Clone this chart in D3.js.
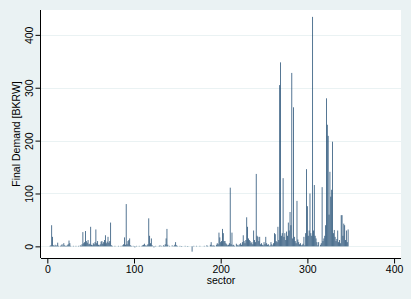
<!DOCTYPE html>
<html lang="en">
    <script src="https://d3js.org/d3.v7.min.js"></script>
    <head>
        <title>Final Demand by sector</title>
    </head>
    <style>
        *{
            margin: 0px;
            padding: 0px;
        }
        body{
            background-color: #EAF2F3;
        }
        text{
            font-family: 'Liberation Sans', Arial, sans-serif;
        }
    </style>
    <body>
        <div class="chart"></div>
        <script>
            // sector numbers 1..350 and final demand [BKRW]
            var sectors = d3.range(1, 351);
            var demand = [
                0, 0, 1, 2, 40, 18, 2, 1, 3, 1,
                2, 7, 1, 0, 1, 2, 4, 1, 6, 2,
                1, 1, 2, 4, 11, 6, 1, 0, 0, 1,
                0, 0, 1, 0, 0, 1, 0, 2, 1, 4,
                27, 6, 8, 29, 10, 7, 12, 4, 5, 37,
                3, 2, 6, 4, 8, 32, 6, 10, 3, 2,
                4, 9, 10, 5, 8, 12, 21, 6, 9, 18,
                7, 10, 45, 2, 1, 0, 0, 1, 0, 0,
                0, 1, 0, 0, 1, 0, 2, 4, 17, 3,
                80, 4, 10, 12, 15, 2, 1, 0, 1, 0,
                -2, 0, 1, 0, 0, 1, 0, 0, 1, 2,
                3, 5, 2, 1, 2, 4, 53, 20, 6, 15,
                2, 0, -2, 0, 1, 0, 0, 0, 1, 2,
                0, 1, 0, 2, 1, 4, 15, 33, 3, 0,
                1, 0, 0, 2, 0, 1, 3, 8, 2, 1,
                0, 0, 1, 0, -1, 0, 0, 0, 1, 0,
                0, -1, 0, 0, 0, 0, -10, 0, 1, 0,
                0, 1, 0, 0, 0, 1, 0, 0, 0, 0,
                1, 0, 0, 2, 1, 0, 0, 3, 8, 2,
                1, 2, 1, 0, 3, 6, 4, 26, 17, 8,
                10, 33, 25, 10, 10, 6, 4, 2, 3, 6,
                111, 4, 26, 2, 3, 1, 0, 5, 2, 3,
                1, 4, 6, 3, 8, 21, 10, 6, 12, 55,
                37, 15, 12, 10, 6, 8, 4, 30, 12, 8,
                137, 20, 18, 10, 18, 4, 6, 3, 2, 8,
                4, 18, 6, 3, 4, 1, 2, 8, 4, 2,
                6, 25, 23, 10, 8, 37, 12, 305, 348, 20,
                25, 129, 18, 25, 12, 28, 20, 45, 30, 65,
                40, 328, 15, 263, 18, 10, 6, 86, 13, 8,
                4, 6, 2, 3, 5, 18, 2, 25, 146, 76,
                20, 30, 100, 25, 20, 434, 30, 116, 20, 15,
                8, 2, 8, 0, 3, 6, 112, 10, 15, 20,
                40, 280, 230, 209, 60, 141, 94, 107, 198, 25,
                31, 18, 10, 14, 30, 8, 12, 6, 59, 59,
                20, 43, 40, 12, 30, 8, 32, 0, 0, 0
            ];
            var xTicks = [0, 100, 200, 300, 400];
            var yTicks = [0, 100, 200, 300, 400];

            var width = 411;
            var height = 299;

            // plot region
            var pLeft = 41, pRight = 401, pTop = 10, pBottom = 258;

            const svg = d3
            .select('.chart')
            .append('svg')
            .attr('width', width)
            .attr('height', height)
            .style('display', 'block');

            svg.append('rect')
            .attr('width', width)
            .attr('height', height)
            .attr('fill', '#EAF2F3');

            svg.append('rect')
            .attr('x', pLeft)
            .attr('y', pTop)
            .attr('width', pRight - pLeft)
            .attr('height', pBottom - pTop)
            .attr('fill', '#ffffff');

            var xScale = d3.scaleLinear().domain([-7.3, 408]).range([pLeft, pRight]);
            var yScale = d3.scaleLinear().domain([-22, 447]).range([pBottom, pTop]);

            // gridlines
            svg.append('g')
            .selectAll('line')
            .data(yTicks)
            .enter()
            .append('line')
            .attr('x1', pLeft)
            .attr('x2', pRight)
            .attr('y1', d => Math.round(yScale(d)) + 0.5)
            .attr('y2', d => Math.round(yScale(d)) + 0.5)
            .attr('stroke', '#EAF2F3')
            .attr('stroke-width', 1);

            // bars
            svg.append('g')
            .selectAll('rect')
            .data(demand)
            .enter()
            .append('rect')
            .attr('x', (d, i) => xScale(sectors[i] - 0.5))
            .attr('width', xScale(1) - xScale(0))
            .attr('y', d => yScale(Math.max(d, 0)))
            .attr('height', d => Math.abs(yScale(d) - yScale(0)))
            .attr('fill', '#1a476f')
            .attr('fill-opacity', 0.85);

            // x axis
            var xAxis = d3.axisBottom(xScale)
            .tickValues(xTicks)
            .tickSize(5)
            .tickPadding(2)
            .tickSizeOuter(0);

            var gx = svg.append('g')
            .attr('transform', 'translate(0,' + (pBottom + 0.5) + ')')
            .call(xAxis);
            gx.select('.domain').attr('d', 'M' + pLeft + ',0H' + pRight);
            gx.selectAll('text').style('font-size', '10.5px').attr('fill', '#000');

            // y axis
            var yAxis = d3.axisLeft(yScale)
            .tickValues(yTicks)
            .tickSize(5)
            .tickSizeOuter(0);

            var gy = svg.append('g')
            .attr('transform', 'translate(' + (pLeft - 0.5) + ',0)')
            .call(yAxis);
            gy.select('.domain').attr('d', 'M0,' + pTop + 'V' + pBottom);
            gy.selectAll('.tick text')
            .style('font-size', '10.5px')
            .attr('fill', '#000')
            .attr('x', 0)
            .attr('dy', 0)
            .attr('text-anchor', 'middle')
            .attr('transform', 'translate(-8,0) rotate(-90)');

            // titles
            svg.append('text')
            .attr('x', (pLeft + pRight) / 2)
            .attr('y', 284)
            .attr('text-anchor', 'middle')
            .style('font-size', '10.5px')
            .text('sector');

            svg.append('text')
            .attr('transform', 'translate(20,' + (pTop + pBottom) / 2 + ') rotate(-90)')
            .attr('text-anchor', 'middle')
            .style('font-size', '10.5px')
            .text('Final Demand [BKRW]');
        </script>
    </body>
</html>
